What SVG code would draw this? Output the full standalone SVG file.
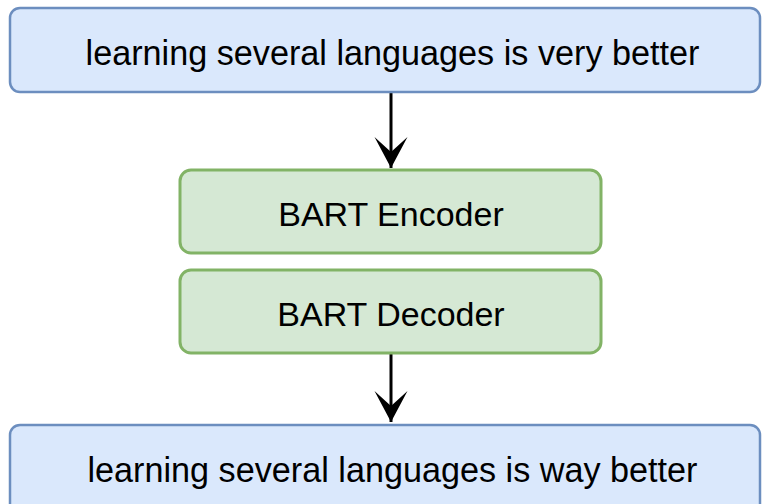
<svg xmlns="http://www.w3.org/2000/svg" width="762" height="504" viewBox="0 0 762 504">
<defs>
<marker id="arr" markerUnits="userSpaceOnUse" markerWidth="34" markerHeight="34" refX="31" refY="16.5" orient="auto" viewBox="0 0 34 33">
<path d="M0,0 L31,16.5 L0,33 L15,16.5 Z" fill="#000"/>
</marker>
<style>
.blue{fill:#dae8fc;stroke:#6c8ebf;stroke-width:2.5}
.green{fill:#d5e8d4;stroke:#82b366;stroke-width:3}
.t{font-family:"Liberation Sans",Arial,Helvetica,sans-serif;fill:#000;text-anchor:middle}
.big{font-size:34.2px}
.mid{font-size:34px}
.edge{stroke:#000;stroke-width:3;fill:none}
</style>
</defs>
<rect width="762" height="504" fill="#fff"/>
<g id="connectors">
<line class="edge" x1="391" y1="93" x2="391" y2="168" marker-end="url(#arr)"/>
<line class="edge" x1="391" y1="353" x2="391" y2="422" marker-end="url(#arr)"/>
</g>
<g id="input">
<rect class="blue" x="10" y="8" width="750" height="84" rx="10"/>
<text class="t big" x="392.5" y="65">learning several languages is very better</text>
</g>
<g id="encoder">
<rect class="green" x="180" y="170" width="421" height="83" rx="11"/>
<text class="t mid" x="391" y="226">BART Encoder</text>
</g>
<g id="decoder">
<rect class="green" x="180" y="270" width="421" height="83" rx="11"/>
<text class="t mid" x="391" y="326">BART Decoder</text>
</g>
<g id="output">
<rect class="blue" x="10" y="425" width="750" height="100" rx="10"/>
<text class="t big" x="392.5" y="482">learning several languages is way better</text>
</g>
</svg>
